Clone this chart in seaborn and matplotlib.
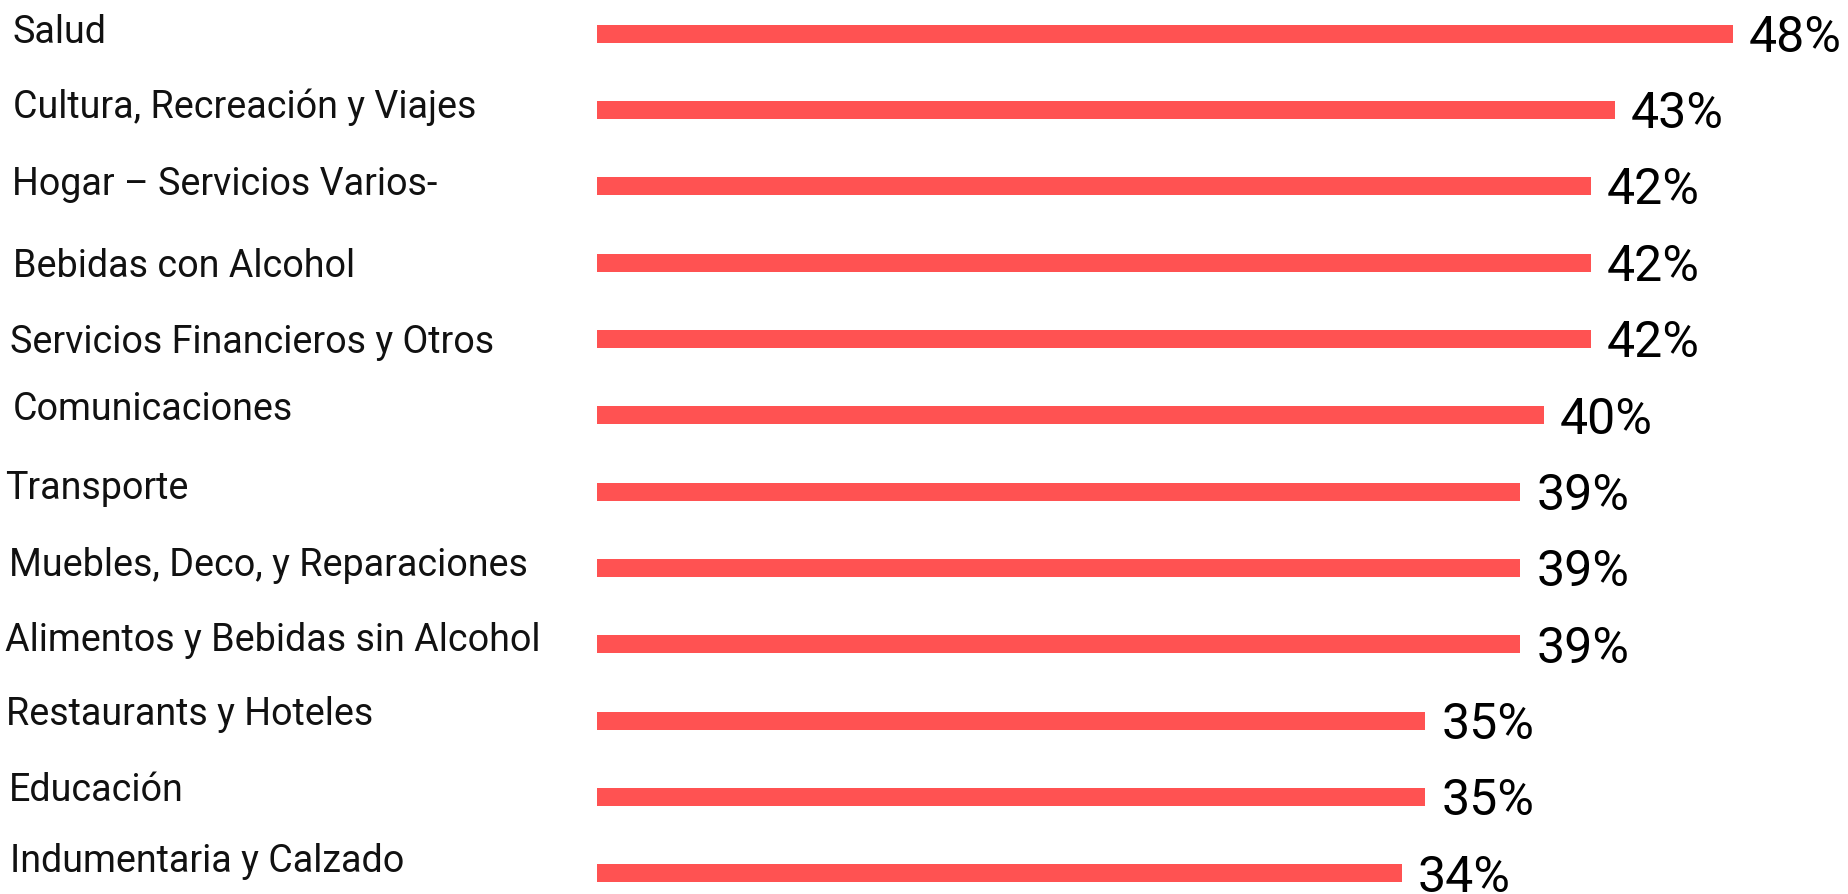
import matplotlib
matplotlib.use("Agg")
import matplotlib.pyplot as plt
import matplotlib.transforms as mtransforms
import pandas as pd
import seaborn as sns

# Share of respondents per spending category (%)
categories = [
    "Salud",
    "Cultura, Recreación y Viajes",
    "Hogar – Servicios Varios-",
    "Bebidas con Alcohol",
    "Servicios Financieros y Otros",
    "Comunicaciones",
    "Transporte",
    "Muebles, Deco, y Reparaciones",
    "Alimentos y Bebidas sin Alcohol",
    "Restaurants y Hoteles",
    "Educación",
    "Indumentaria y Calzado",
]
values = [48, 43, 42, 42, 42, 40, 39, 39, 39, 35, 35, 34]

df = pd.DataFrame({"categoria": categories, "valor": values})

# ---- layout (pixels) ----
DPI = 100
W, H = 1848, 895
AX_LEFT = 597
ROW_TOP = 34.5          # centre of first bar
ROW_STEP = 76.36        # distance between bar centres
PX_PER_UNIT = 23.67     # horizontal pixels per percentage point
BAR_PX = 18

# small per-row nudges of the category captions (px, + = down) and their left edge
label_dy = [-5, -6.5, -5.5, -0.5, 0, -10, -7, -7, -8, -10, -11, -16]
label_x = [13, 13, 12, 13, 10, 13, 5, 9, 5, 6, 9, 10]

sns.set_style("white")
plt.rcParams["font.family"] = ["Roboto", "Liberation Sans", "DejaVu Sans"]

fig = plt.figure(figsize=(W / DPI, H / DPI), dpi=DPI)
ax = fig.add_axes([AX_LEFT / W, 0, (W - AX_LEFT) / W, 1])

n = len(categories)
sns.barplot(
    data=df, x="valor", y="categoria", order=categories, orient="h",
    color="#FF5252", saturation=1, width=BAR_PX / ROW_STEP,
    edgecolor="none", linewidth=0, ax=ax,
)

ax.set_xlim(0, (W - AX_LEFT) / PX_PER_UNIT)
ax.set_ylim((n - 1) + (H - (ROW_TOP + (n - 1) * ROW_STEP)) / ROW_STEP,
            -ROW_TOP / ROW_STEP)
ax.axis("off")

# category captions on the left
LABEL_PT = 27.1
LABEL_CAP = 27.0
blend = mtransforms.blended_transform_factory(fig.transFigure, ax.transData)
for i, name in enumerate(categories):
    tr = mtransforms.offset_copy(blend, fig=fig, x=0,
                                 y=-(label_dy[i] + LABEL_CAP / 2), units="dots")
    ax.text(label_x[i] / W, i, name, transform=tr, ha="left", va="baseline",
            fontsize=LABEL_PT, fontweight="normal", color="#111111")

# value labels after each bar
VALUE_PT = 36
VALUE_CAP = 35.5
for i, v in enumerate(values):
    tr = mtransforms.offset_copy(ax.transData, fig=fig, x=16,
                                 y=-(-0.5 + VALUE_CAP / 2), units="dots")
    ax.text(v, i, f"{v}%", transform=tr, ha="left", va="baseline",
            fontsize=VALUE_PT, fontweight="normal", color="#000000")

fig.savefig("out.png", dpi=DPI, facecolor="white")
